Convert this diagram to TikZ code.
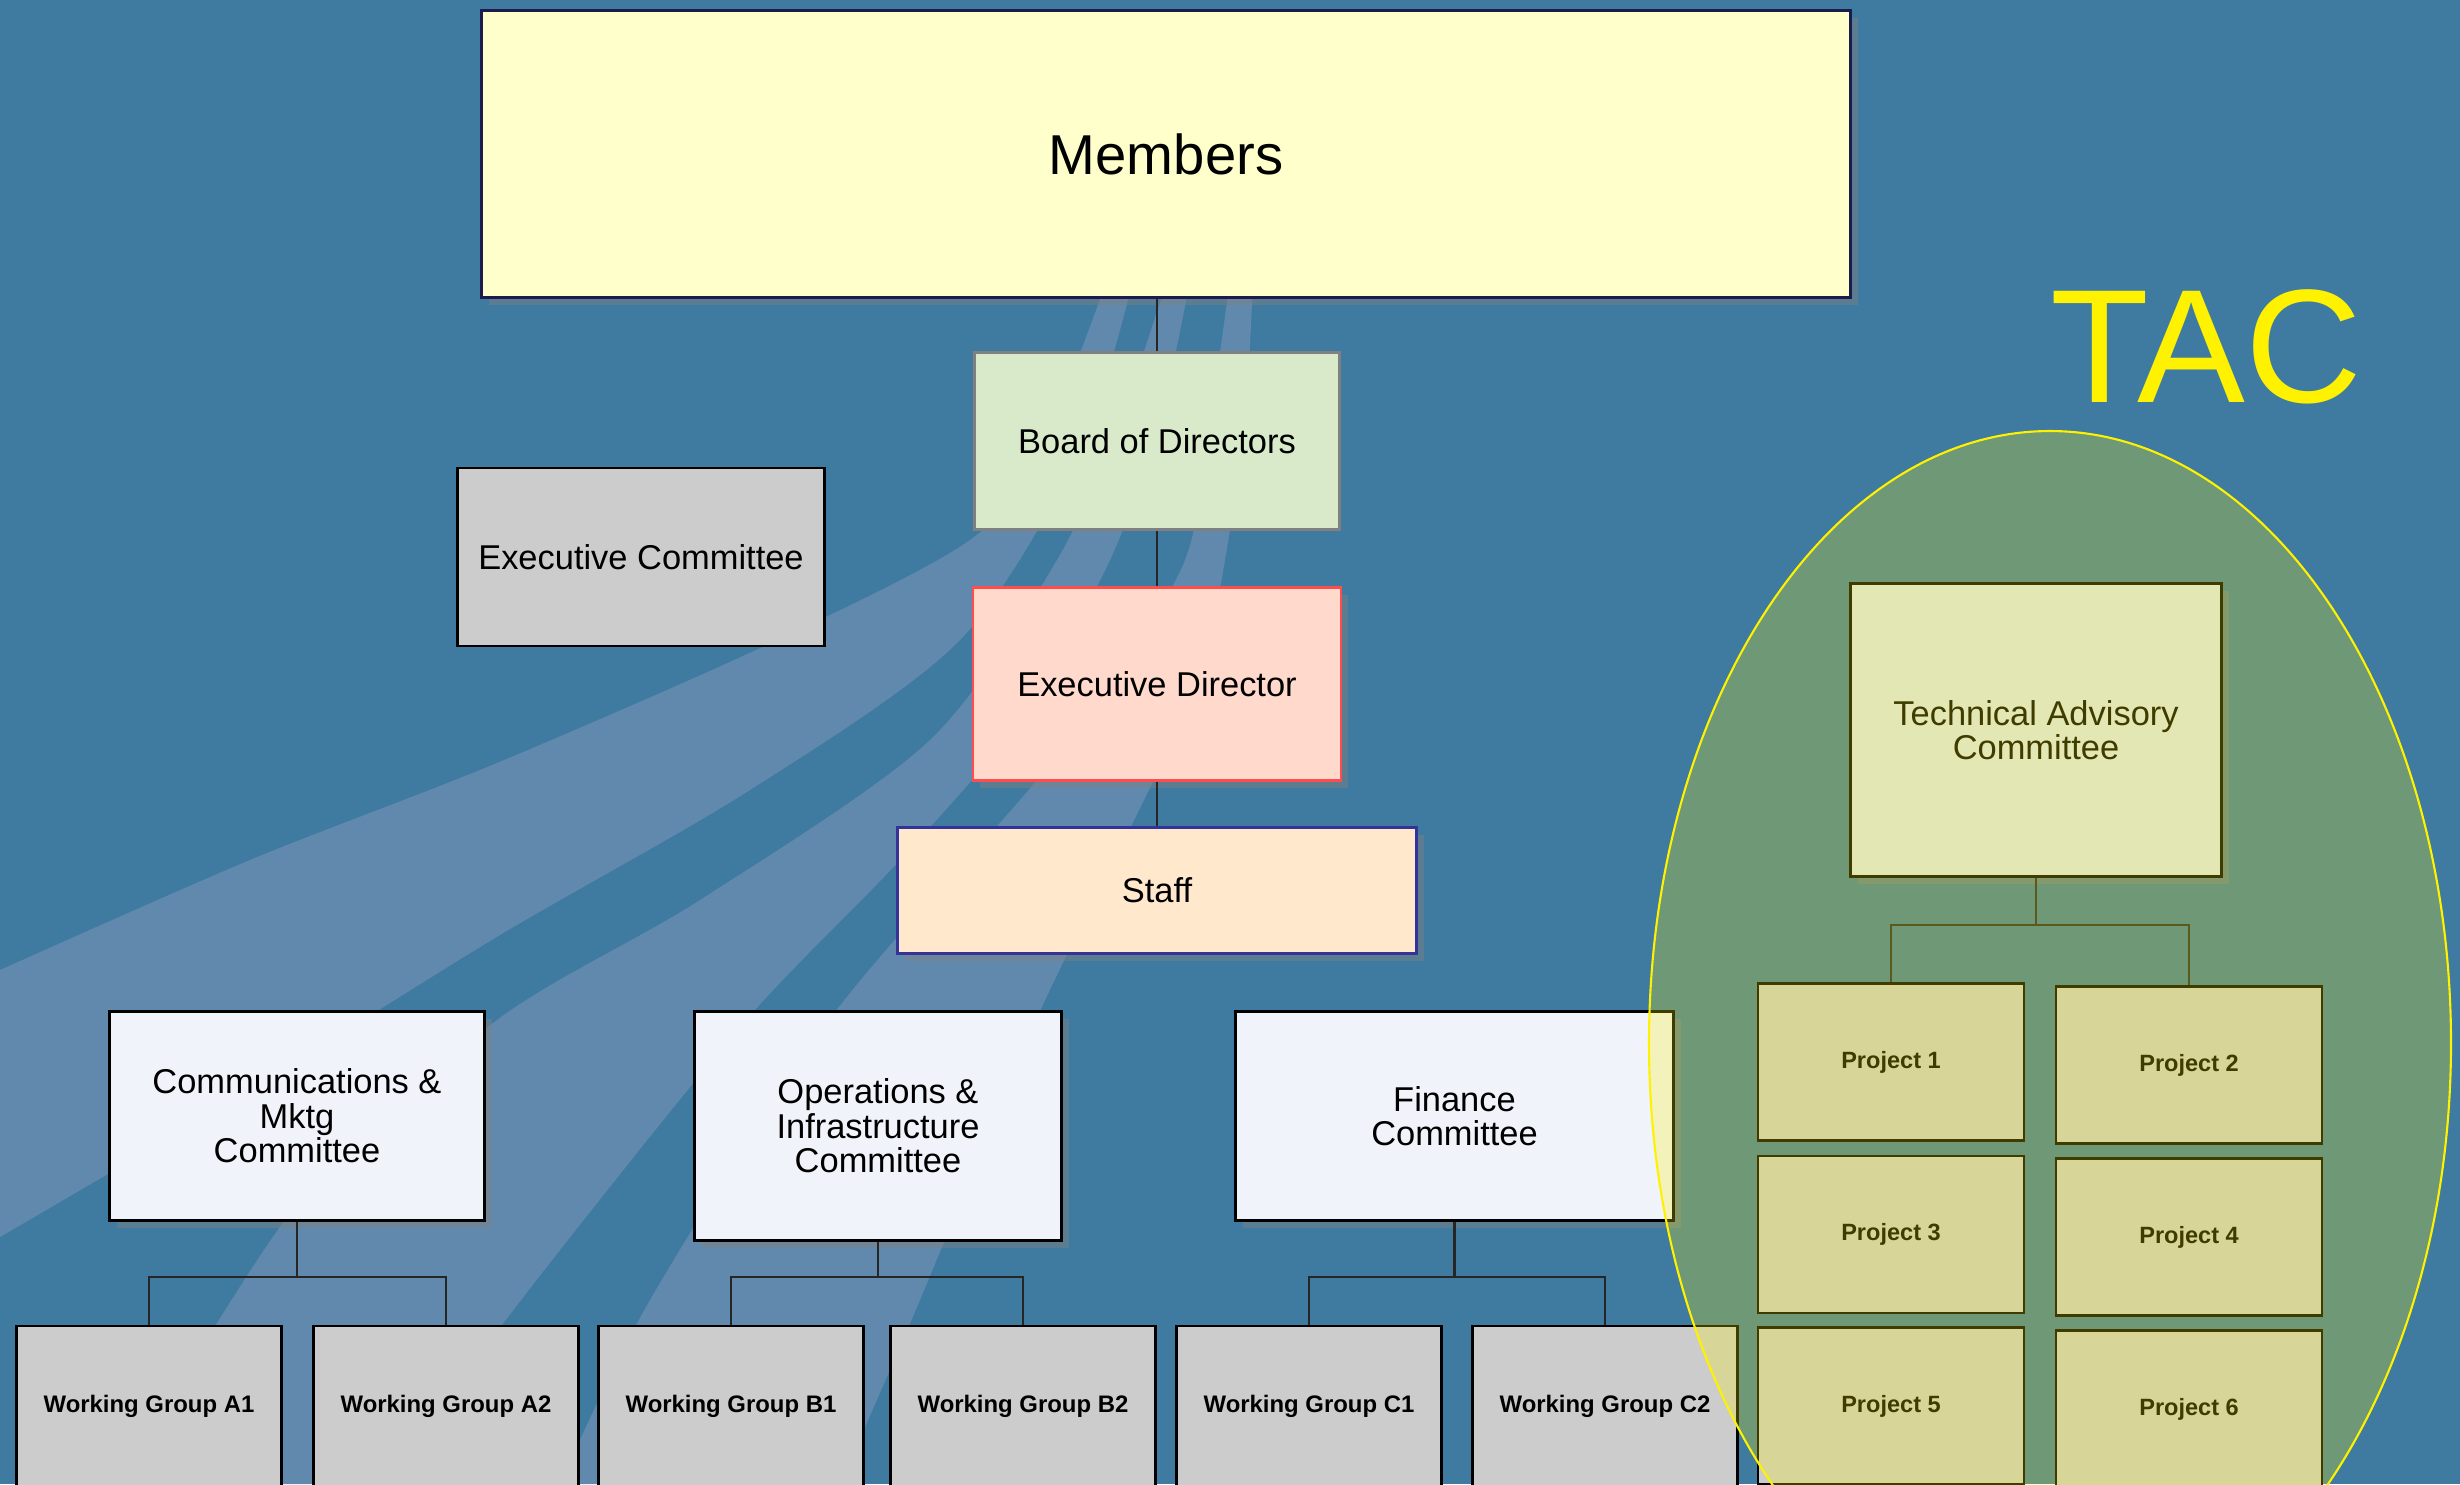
\documentclass[tikz,border=0pt]{standalone}
\usepackage{fontspec}
\setmainfont{Liberation Sans}
\usetikzlibrary{positioning,calc,shadows,shapes.geometric}
\definecolor{bgblue}{HTML}{3F7BA0}
\definecolor{streak}{HTML}{6189AE}
\definecolor{membfill}{HTML}{FFFFCC}
\definecolor{membline}{HTML}{1C1C4C}
\definecolor{boardfill}{HTML}{D9EACB}
\definecolor{edfill}{HTML}{FFDACC}
\definecolor{edline}{HTML}{FF4D4D}
\definecolor{stafffill}{HTML}{FFE8CC}
\definecolor{staffline}{HTML}{333399}
\definecolor{cmtfill}{HTML}{F0F3F9}
\definecolor{tacfill}{HTML}{DAE4F1}
\tikzset{
box/.style = {draw, rectangle, align=center, inner sep=0pt, line width=0.7pt, font=\fontsize{9.8}{9.8}\selectfont},
shadowed/.style = {drop shadow={shadow xshift=0.7mm, shadow yshift=-0.7mm, opacity=0.45}},
members/.style = {box, fill=membfill, draw=membline, line width=0.9pt, minimum width=136.9mm, minimum height=28.7mm, font=\fontsize{16}{16}\selectfont, shadowed},
board/.style = {box, fill=boardfill, draw=gray, minimum width=36.5mm, minimum height=17.7mm},
excom/.style = {box, fill=black!20, draw=black, line width=0.8pt, minimum width=36.7mm, minimum height=17.8mm},
exdir/.style = {box, fill=edfill, draw=edline, line width=0.6pt, minimum width=36.8mm, minimum height=19.3mm, shadowed},
staff/.style = {box, fill=stafffill, draw=staffline, line width=0.8pt, minimum width=51.9mm, minimum height=12.6mm, shadowed},
cmte/.style = {box, fill=cmtfill, draw=black, line width=0.6pt, shadowed},
wg/.style = {box, fill=black!20, draw=black, line width=0.8pt, minimum width=26.5mm, minimum height=16mm, font=\fontsize{6.8}{6.8}\selectfont\bfseries},
project/.style = {wg, minimum width=26.6mm, minimum height=15.7mm, font=\fontsize{6.7}{6.7}\selectfont\bfseries},
tacbox/.style = {box, fill=tacfill, draw=black, line width=0.6pt, minimum width=37.1mm, minimum height=29.3mm, shadowed},
tacring/.style = {ellipse, draw=yellow, line width=0.6pt, fill=yellow, fill opacity=0.25, minimum width=80.2mm, minimum height=122.4mm, inner sep=0pt},
taclabel/.style = {text=yellow, inner sep=0pt, font=\fontsize{46}{46}\selectfont},
link/.style = {draw=black!85, line width=0.8pt},
tmp/.style = {coordinate}
}
\begin{document}
\begin{tikzpicture}[x=0.1mm, y=-0.1mm]
  \useasboundingbox (0,0) rectangle (2460,1484);
  \fill [bgblue] (0,0) rectangle (2460,1484);

  % light streaks behind the chart
  \fill [streak] plot [smooth] coordinates {(1107,280) (1040,450) (970,540) (771,643) (497,763) (250,860) (0,970)}
    -- plot [smooth] coordinates {(0,1237) (250,1090) (500,935) (750,790) (960,640) (1080,450) (1133,280)} -- cycle;
  \fill [streak] plot [smooth] coordinates {(1167,280) (1120,420) (1057,560) (930,740) (700,900) (497,1020) (300,1200) (120,1484)}
    -- plot [smooth] coordinates {(380,1484) (560,1250) (746,1020) (900,860) (1020,720) (1110,560) (1160,420) (1190,280)} -- cycle;
  \fill [streak] plot [smooth] coordinates {(1230,280) (1210,420) (1185,560) (1100,700) (1020,800) (829,1020) (650,1300) (560,1484)}
    -- plot [smooth] coordinates {(840,1484) (920,1300) (1036,1020) (1144,800) (1200,680) (1225,560) (1245,420) (1253,280)} -- cycle;

  \node [members] (members) at (1166,154) {Members};
  \node [board] (board) at (1157,441) {Board of Directors};
  \node [exdir, below of=board, node distance=24.3mm] (exdir) {Executive Director};
  \node [staff, below of=exdir, node distance=20.65mm] (staff) {Staff};
  \node [excom] (excom) at (641,557) {Executive Committee};

  \node [cmte, minimum width=37.5mm, minimum height=20.9mm] (comm) at (297,1116) {Communications \&\\Mktg\\Committee};
  \node [cmte, minimum width=36.7mm, minimum height=22.9mm, right of=comm, node distance=58.1mm, yshift=-1mm] (ops) {Operations \&\\Infrastructure\\Committee};
  \node [cmte, minimum width=43.8mm, minimum height=20.9mm, right of=ops, node distance=57.65mm, yshift=1mm] (finance) {Finance\\Committee};

  \node [wg] (wga1) at (149,1406) {Working Group A1};
  \node [wg, right of=wga1, node distance=29.7mm] (wga2) {Working Group A2};
  \node [wg, right of=wga2, node distance=28.5mm] (wgb1) {Working Group B1};
  \node [wg, right of=wgb1, node distance=29.2mm] (wgb2) {Working Group B2};
  \node [wg, right of=wgb2, node distance=28.6mm] (wgc1) {Working Group C1};
  \node [wg, right of=wgc1, node distance=29.6mm] (wgc2) {Working Group C2};

  \node [tacbox] (tacbox) at (2036,730) {Technical Advisory\\Committee};
  \node [project] (p1) at (1891,1062) {Project 1};
  \node [project, below of=p1, node distance=17.25mm] (p3) {Project 3};
  \node [project, below of=p3, node distance=17.15mm] (p5) {Project 5};
  \node [project] (p2) at (2189,1065) {Project 2};
  \node [project, below of=p2, node distance=17.2mm] (p4) {Project 4};
  \node [project, below of=p4, node distance=17.2mm] (p6) {Project 6};

  \node [tmp] (wgbus) at (0,1277) {};
  \node [tmp] (tacbus) at (0,925) {};

  \draw [link] (board) -- (board |- members.south);
  \draw [link] (board) -- (exdir);
  \draw [link] (exdir) -- (staff);
  \draw [link] (comm) -- (comm |- wgbus);
  \draw [link] (wga1) -- (wga1 |- wgbus) -- (wga2 |- wgbus) -- (wga2);
  \draw [link] (ops) -- (ops |- wgbus);
  \draw [link] (wgb1) -- (wgb1 |- wgbus) -- (wgb2 |- wgbus) -- (wgb2);
  \draw [link] (finance) -- (finance |- wgbus);
  \draw [link] (wgc1) -- (wgc1 |- wgbus) -- (wgc2 |- wgbus) -- (wgc2);
  \draw [link] (tacbox) -- (tacbox |- tacbus);
  \draw [link] (p1) -- (p1 |- tacbus) -- (p2 |- tacbus) -- (p2);

  % TAC group on top
  \node [tacring] (tacring) at (2050,1043) {};
  \node [taclabel] (tac) at (2206,347) {TAC};
\end{tikzpicture}
\end{document}
